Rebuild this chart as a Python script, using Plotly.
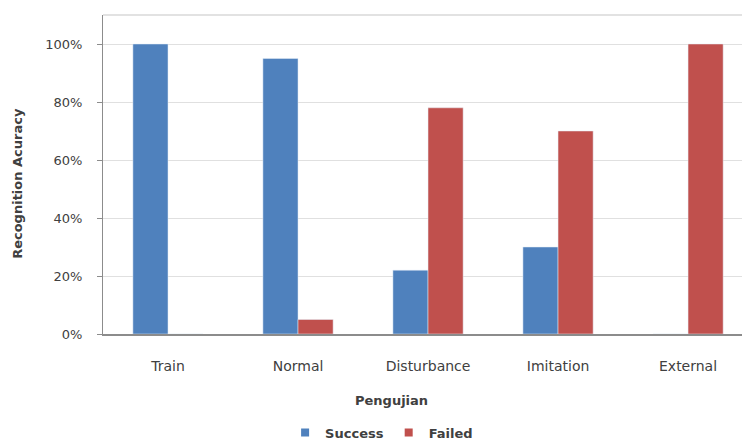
import plotly.graph_objects as go

categories = ["Train", "Normal", "Disturbance", "Imitation", "External"]
success = [100, 95, 22, 30, 0]
failed = [0, 5, 78, 70, 100]
y_ticks = [0, 20, 40, 60, 80, 100]
y_tick_labels = ["0%", "20%", "40%", "60%", "80%", "100%"]

font_family = "DejaVu Sans"
blue = "#4F81BD"
red = "#C0504D"

fig = go.Figure()
fig.add_trace(go.Bar(name="Success", x=categories, y=success, marker_color=blue, showlegend=False))
fig.add_trace(go.Bar(name="Failed", x=categories, y=failed, marker_color=red, showlegend=False))

# compact square legend keys
for name, color in [("Success", blue), ("Failed", red)]:
    fig.add_trace(go.Scatter(
        name=name, x=[None], y=[None], mode="markers",
        marker=dict(symbol="square", size=8, color=color),
        showlegend=True,
    ))

fig.update_layout(
    width=742,
    height=441,
    margin=dict(l=103, r=0, t=15, b=107, autoexpand=False),
    paper_bgcolor="white",
    plot_bgcolor="white",
    barmode="group",
    bargap=0.46,
    bargroupgap=0,
    font=dict(family=font_family, size=13, color="#404040"),
    showlegend=True,
    legend=dict(
        orientation="h",
        x=0.436,
        xanchor="center",
        y=-0.262,
        yanchor="top",
        font=dict(family=font_family, size=13, color="#404040", weight="bold"),
        itemwidth=30,
        tracegroupgap=0,
    ),
    xaxis=dict(
        type="category",
        range=[-0.5, 4.415],
        automargin=False,
        showgrid=False,
        showline=True,
        linecolor="#8c8c8c",
        linewidth=1.5,
        ticks="",
        ticklabelstandoff=18,
        tickfont=dict(family=font_family, size=14, color="#404040"),
        mirror=False,
    ),
    yaxis=dict(
        range=[0, 110],
        automargin=False,
        tickvals=y_ticks,
        ticktext=y_tick_labels,
        showgrid=True,
        gridcolor="#e0e0e0",
        gridwidth=1,
        showline=True,
        linecolor="#8c8c8c",
        linewidth=1.2,
        ticks="outside",
        ticklen=5,
        tickcolor="#8c8c8c",
        ticklabelstandoff=12,
        tickfont=dict(family=font_family, size=13, color="#404040"),
        zeroline=False,
    ),
    annotations=[
        dict(
            text="<b>Pengujian</b>",
            xref="paper", yref="paper",
            x=0.452, y=-0.207,
            xanchor="center", yanchor="middle",
            showarrow=False,
            font=dict(family=font_family, size=13, color="#404040"),
        ),
        dict(
            text="<b>Recognition Acuracy</b>",
            xref="paper", yref="paper",
            x=-0.135, y=0.473,
            xanchor="center", yanchor="middle",
            textangle=-90,
            showarrow=False,
            font=dict(family=font_family, size=13, color="#404040"),
        ),
    ],
    shapes=[
        dict(
            type="line", xref="paper", yref="paper",
            x0=0, x1=1, y0=1, y1=1,
            line=dict(color="#d9d9d9", width=1.5),
        )
    ],
)

fig.write_html("out.html")
